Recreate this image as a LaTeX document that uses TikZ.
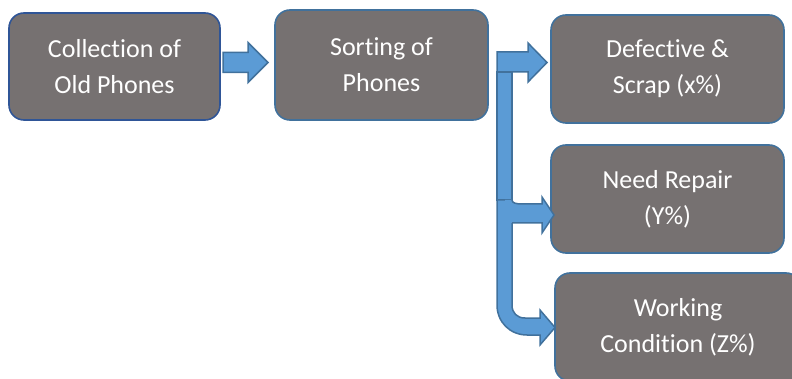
\documentclass[tikz,border=0pt]{standalone}
\usepackage{fontspec}
\setmainfont{Carlito}[RawFeature={-liga;-clig;-dlig;-calt}]
\definecolor{boxfill}{HTML}{767171}
\definecolor{boxline}{HTML}{41719C}
\definecolor{boxlinedark}{HTML}{2F5597}
\definecolor{arrfill}{HTML}{5B9BD5}
\definecolor{arrline}{HTML}{41719C}
\tikzset{
  card/.style={draw=boxline, fill=boxfill, line width=1.6pt, rounded corners=15pt,
    text=white, align=center, inner sep=0pt,
    font=\fontsize{26}{36}\selectfont},
  blockarrow/.style={fill=arrfill, draw=arrline, line width=1.5pt, line join=miter},
}
\begin{document}
\begin{tikzpicture}[x=1pt,y=-1pt]
\useasboundingbox (0,0) rectangle (792,379);
\clip (0,0) rectangle (792,379);

% boxes
\node[card, draw=boxlinedark, minimum width=211pt, minimum height=107pt] (b1) at (114.5,66.5) {Collect\kern0pt ion of\\Old Phones};
\node[card, minimum width=213pt, minimum height=110pt] (b2) at (381.5,65) {Sort\kern0pt ing of\\Phones};
\node[card, minimum width=233pt, minimum height=108pt] (b3) at (667.5,69) {Defective \&\\Scrap (x\%)};
\node[card, minimum width=233pt, minimum height=108pt] (b4) at (667.5,199) {Need Repair\\(Y\%)};
\node[card, minimum width=246pt, minimum height=108pt] (b5) at (678,327) {Working\\Condit\kern0pt ion (Z\%)};

% arrow tips
\coordinate (t1) at (268,62.5);
\coordinate (t3) at (547,62.5);
\coordinate (t4) at (554,215);
\coordinate (t5) at (555,327.5);

% arrow from collection to sorting
\draw[blockarrow] (223,52.5) -- (248,52.5) -- (248,42.5) -- (t1) -- (248,82.5) -- (248,72.5) -- (223,72.5) -- cycle;

% trunk
\draw[blockarrow] (497,72) rectangle (512,200);
% top branch
\draw[blockarrow] (497,52) -- (528,52) -- (528,43) -- (t3) -- (528,82) -- (528,72) -- (497,72) -- cycle;
% bottom branch (bent)
\draw[blockarrow] (497,200) -- (497,305) .. controls (497,322) and (510,335) .. (527,335)
  -- (540,335) -- (540,345) -- (t5) -- (540,310) -- (540,318) -- (525,318)
  .. controls (517,318) and (512,313) .. (512,305) -- (512,200) -- cycle;
% middle branch
\fill[arrfill] (505,200) -- (512,200) .. controls (512,203) and (516,204) .. (522,204)
  -- (542,204) -- (542,197) -- (t4) -- (542,233) -- (542,223) -- (505,223) -- cycle;
\draw[blockarrow, fill=none] (512,200) .. controls (512,203) and (516,204) .. (522,204)
  -- (542,204) -- (542,197) -- (t4) -- (542,233) -- (542,223) -- (512,223);
\end{tikzpicture}
\end{document}
